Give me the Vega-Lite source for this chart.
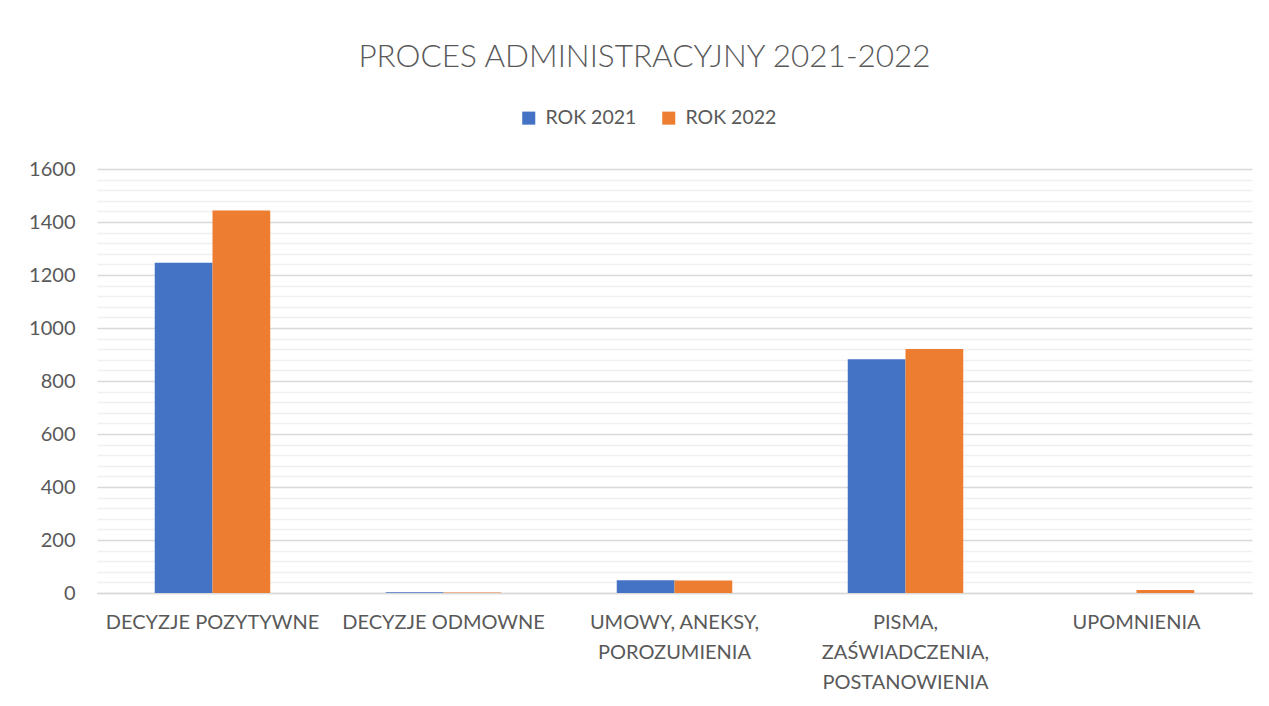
{
  "$schema": "https://vega.github.io/schema/vega-lite/v6.json",
  "width": 1155,
  "height": 424,
  "autosize": {"type": "none"},
  "padding": {"left": 97, "top": 169, "right": 17, "bottom": 113},
  "background": "white",
  "title": {
    "text": "PROCES ADMINISTRACYJNY 2021-2022",
    "font": "Lato",
    "fontSize": 31.5,
    "fontWeight": 300,
    "color": "#595959",
    "anchor": "middle",
    "dx": -30,
    "offset": 35
  },
  "data": {
    "values": [
      {"kategoria": "DECYZJE POZYTYWNE", "rok": "ROK 2021", "wartosc": 1246},
      {"kategoria": "DECYZJE POZYTYWNE", "rok": "ROK 2022", "wartosc": 1443},
      {"kategoria": "DECYZJE ODMOWNE", "rok": "ROK 2021", "wartosc": 3},
      {"kategoria": "DECYZJE ODMOWNE", "rok": "ROK 2022", "wartosc": 2},
      {"kategoria": "UMOWY, ANEKSY, POROZUMIENIA", "rok": "ROK 2021", "wartosc": 48},
      {"kategoria": "UMOWY, ANEKSY, POROZUMIENIA", "rok": "ROK 2022", "wartosc": 47},
      {"kategoria": "PISMA, ZAŚWIADCZENIA, POSTANOWIENIA", "rok": "ROK 2021", "wartosc": 882},
      {"kategoria": "PISMA, ZAŚWIADCZENIA, POSTANOWIENIA", "rok": "ROK 2022", "wartosc": 921},
      {"kategoria": "UPOMNIENIA", "rok": "ROK 2021", "wartosc": 0},
      {"kategoria": "UPOMNIENIA", "rok": "ROK 2022", "wartosc": 11}
    ]
  },
  "mark": {"type": "bar"},
  "encoding": {
    "x": {
      "field": "kategoria",
      "type": "nominal",
      "sort": null,
      "scale": {"paddingInner": 0.5, "paddingOuter": 0.25},
      "axis": {
        "title": null,
        "labelAngle": 0,
        "labelFont": "Lato",
        "labelFontSize": 20,
        "labelColor": "#595959",
        "labelPadding": 19,
        "labelLineHeight": 30,
        "labelBaseline": "top",
        "labelLimit": 0,
        "labelExpr": "datum.label == 'UMOWY, ANEKSY, POROZUMIENIA' ? ['UMOWY, ANEKSY,', 'POROZUMIENIA'] : datum.label == 'PISMA, ZAŚWIADCZENIA, POSTANOWIENIA' ? ['PISMA,', 'ZAŚWIADCZENIA,', 'POSTANOWIENIA'] : datum.label",
        "ticks": false,
        "domainColor": "#D9D9D9",
        "domainWidth": 1.5,
        "grid": false
      }
    },
    "xOffset": {
      "field": "rok",
      "type": "nominal",
      "scale": {"paddingInner": 0, "paddingOuter": 0}
    },
    "y": {
      "field": "wartosc",
      "type": "quantitative",
      "scale": {"domain": [0, 1600], "nice": false},
      "axis": {
        "title": null,
        "values": [0,40,80,120,160,200,240,280,320,360,400,440,480,520,560,600,640,680,720,760,800,840,880,920,960,1000,1040,1080,1120,1160,1200,1240,1280,1320,1360,1400,1440,1480,1520,1560,1600],
        "labelExpr": "datum.value % 200 === 0 ? datum.label : ''",
        "format": "d",
        "labelFont": "Lato",
        "labelFontSize": 20,
        "labelColor": "#595959",
        "labelPadding": 22,
        "ticks": false,
        "domain": false,
        "grid": true,
        "gridColor": {"condition": {"test": "datum.value % 200 === 0", "value": "#D9D9D9"}, "value": "#F0F0F0"},
        "gridWidth": 1.5
      }
    },
    "color": {
      "field": "rok",
      "type": "nominal",
      "scale": {"domain": ["ROK 2021", "ROK 2022"], "range": ["#4472C4", "#ED7D31"]},
      "legend": {
        "title": null,
        "orient": "none",
        "direction": "horizontal",
        "legendX": 422,
        "legendY": -61,
        "symbolType": "square",
        "symbolSize": 170,
        "symbolStrokeWidth": 0,
        "labelFont": "Lato",
        "labelFontSize": 19.5,
        "labelColor": "#595959",
        "labelOffset": 7,
        "columnPadding": 22
      }
    }
  },
  "config": {
    "view": {"stroke": null}
  }
}
